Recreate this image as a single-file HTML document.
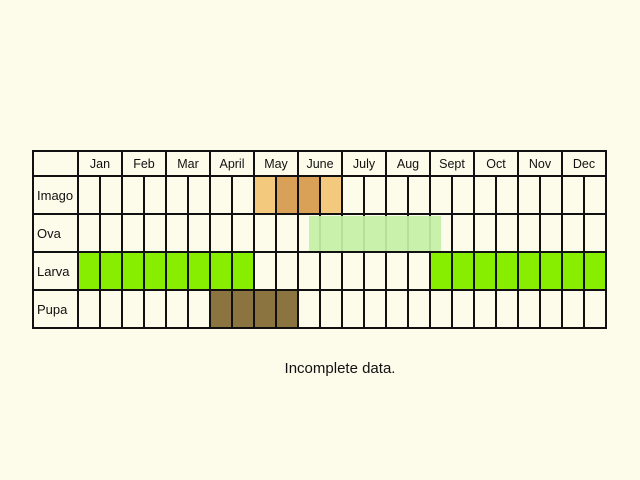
<!DOCTYPE html>
<html><head><meta charset="utf-8"><style>
body{margin:0;background:#fdfbea;}
svg{display:block;font-family:"Liberation Sans",sans-serif;}
</style></head><body>
<svg id="chart" width="640" height="480">
<rect width="640" height="480" fill="#fdfbea"/>
<g id="cells"></g><g id="lines"></g><g id="labels"></g>
<text x="340" y="373" font-size="15" text-anchor="middle" fill="#111">Incomplete data.</text>
</svg>
<script>
const months=["Jan","Feb","Mar","April","May","June","July","Aug","Sept","Oct","Nov","Dec"];
const stages=["Imago","Ova","Larva","Pupa"];
const imago=[8,9,10,11];
const imagoShade=[0,1,1,0];
const larva=[0,1,2,3,4,5,6,7,16,17,18,19,20,21,22,23];
const pupa=[6,7,8,9];
const ovaRange=[10.5,16.5];
const X0=78,CW=22,Y0=176,RH=38,L=33,T=151,R=606,B=328;
const ns="http://www.w3.org/2000/svg";
const cx=i=>X0+i*CW, ry=r=>Y0+r*RH;
function mk(tag,attrs,parent){const e=document.createElementNS(ns,tag);for(const k in attrs)e.setAttribute(k,attrs[k]);document.getElementById(parent).appendChild(e);return e;}
imago.forEach((c,i)=>{const e=mk('rect',{x:cx(c),y:ry(0),width:CW,height:RH,fill:imagoShade[i]?'#d9a057':'#f3ca7d'},'cells');

});
larva.forEach(c=>{const e=mk('rect',{x:cx(c),y:ry(2),width:CW,height:RH,fill:'#88ee00'},'cells');

});
pupa.forEach(c=>{const e=mk('rect',{x:cx(c),y:ry(3),width:CW,height:RH,fill:'#8b7440'},'cells');

});
// grid
mk('rect',{x:L,y:T,width:R-L,height:B-T,fill:'none',stroke:'#111','stroke-width':2},'lines');
for(let r=0;r<4;r++)mk('line',{x1:L,x2:R,y1:ry(r),y2:ry(r),stroke:'#111','stroke-width':2},'lines');
for(let i=0;i<24;i++){const y1=i%2?Y0:T;mk('line',{x1:cx(i),x2:cx(i),y1:y1,y2:B,stroke:'#111','stroke-width':2},'lines');}
const ova=mk('rect',{x:cx(ovaRange[0]),y:ry(1)+2,width:(ovaRange[1]-ovaRange[0])*CW,height:RH-3,fill:'#c6f0a6',opacity:0.92},'lines');


months.forEach((m,i)=>{const t=mk('text',{x:cx(2*i)+CW,y:T+17,'font-size':12.5,'text-anchor':'middle',fill:'#111'},'labels');t.textContent=m;

});
stages.forEach((s,r)=>{const t=mk('text',{x:L+4,y:ry(r)+RH/2+5,'font-size':13,fill:'#111'},'labels');t.textContent=s;

});
</script>
</body></html>
